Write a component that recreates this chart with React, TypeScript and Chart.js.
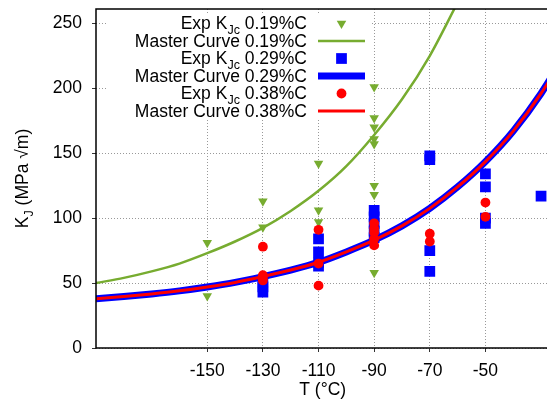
import React, { useEffect, useRef } from 'react';
import { Chart, registerables } from 'chart.js';

Chart.register(...registerables);

// ---- axis ticks ----
const X_TICKS = [-150, -130, -110, -90, -70, -50];
const Y_TICKS = [0, 50, 100, 150, 200, 250];
const X_MIN = -190;
const X_MAX = -27;
const Y_MIN = 0;
const Y_MAX = 261;

// ---- experimental K_Jc, 0.19%C ----
const EXP019_T = [-150, -150, -130, -130, -110, -110, -110, -90, -90, -90, -90, -90, -90, -90, -90];
const EXP019_K = [81, 40, 113, 93, 142, 106, 97, 201, 177, 170, 161, 157, 125, 118, 58];

// ---- experimental K_Jc, 0.29%C ----
const EXP029_T = [-130, -130, -130, -110, -110, -110, -110, -90, -90, -90, -90, -90, -70, -70, -70, -70, -50, -50, -50, -50, -30];
const EXP029_K = [51, 47, 43, 84, 74, 66, 63, 106, 101, 96, 90, 85, 148, 145, 75, 59, 134, 124, 100, 96, 117];

// ---- experimental K_Jc, 0.38%C ----
const EXP038_T = [-130, -130, -130, -130, -110, -110, -110, -90, -90, -90, -90, -90, -70, -70, -50, -50];
const EXP038_K = [78, 56, 54, 52, 91, 65, 48, 96, 92, 89, 84, 79, 88, 82, 112, 101];

// ---- master curves ----
const MC019_T = [-190, -180, -170, -160, -150, -140, -130, -120, -110, -100, -90, -80, -70, -60];
const MC019_K = [50, 54, 59, 65, 73, 82, 92.5, 105.5, 121, 140, 164, 191.5, 225, 266];
const MC029_T = [-190, -180, -170, -160, -150, -140, -130, -120, -110, -100, -90, -80, -70, -60, -50, -40, -30, -20];
const MC029_K = [38, 39.6, 41.6, 44, 47, 50.5, 55, 60, 66, 74, 83, 94, 107.5, 124, 143.5, 167, 196, 230.5];
const MC038_T = [-190, -180, -170, -160, -150, -140, -130, -120, -110, -100, -90, -80, -70, -60, -50, -40, -30, -20];
const MC038_K = [38, 39.6, 41.6, 44, 47, 50.5, 55, 60, 66, 74, 83, 94, 107.5, 124, 143.5, 167, 196, 230.5];

// ---- legend text ----
const CARBON = ['0.19%C', '0.29%C', '0.38%C'];

const GREEN = '#77AC30';
const BLUE = '#0000FF';
const RED = '#FF0000';
const FAMILY = '"Liberation Sans", Arial, Helvetica, sans-serif';
const FONT = `17.5px ${FAMILY}`;
const SUBFONT = `12.5px ${FAMILY}`;
const TRI_R = 5.5;
const RECT_R = 7.6;
const CIRC_R = 4.9;

type Part = { t: string; sub?: boolean };

function partsWidth(ctx: CanvasRenderingContext2D, parts: Part[]) {
  let w = 0;
  for (const p of parts) {
    ctx.font = p.sub ? SUBFONT : FONT;
    w += ctx.measureText(p.t).width;
  }
  return w;
}

function drawParts(ctx: CanvasRenderingContext2D, parts: Part[], x: number, y: number) {
  ctx.textAlign = 'left';
  ctx.textBaseline = 'alphabetic';
  ctx.fillStyle = '#000';
  for (const p of parts) {
    ctx.font = p.sub ? SUBFONT : FONT;
    ctx.fillText(p.t, x, p.sub ? y + 4.5 : y);
    x += ctx.measureText(p.t).width;
  }
}

function marker(ctx: CanvasRenderingContext2D, style: string, x: number, y: number, color: string) {
  ctx.fillStyle = color;
  ctx.beginPath();
  if (style === 'triangle') {
    const r = TRI_R;
    ctx.moveTo(x, y + r);
    ctx.lineTo(x + r * Math.sin((2 * Math.PI) / 3 + Math.PI), y - r * Math.cos((2 * Math.PI) / 3 + Math.PI));
    ctx.lineTo(x + r * Math.sin((4 * Math.PI) / 3 + Math.PI), y - r * Math.cos((4 * Math.PI) / 3 + Math.PI));
    ctx.closePath();
  } else if (style === 'rect') {
    const s = RECT_R * Math.SQRT1_2;
    ctx.rect(x - s, y - s, 2 * s, 2 * s);
  } else {
    ctx.arc(x, y, CIRC_R, 0, Math.PI * 2);
  }
  ctx.fill();
}

const decor = {
  id: 'decor',
  beforeDatasetsDraw(chart: any) {
    const ctx: CanvasRenderingContext2D = chart.ctx;
    ctx.save();
    ctx.fillStyle = '#fff';
    ctx.fillRect(106, 14, 266, 106);
    ctx.restore();
  },
  afterDatasetsDraw(chart: any) {
    const ctx: CanvasRenderingContext2D = chart.ctx;
    const a = chart.chartArea;
    ctx.save();
    const entries = [
      { kind: 'marker', style: 'triangle', color: GREEN, parts: [{ t: 'Exp K' }, { t: 'Jc', sub: true }, { t: ' ' + CARBON[0] }] },
      { kind: 'line', width: 2.5, color: GREEN, parts: [{ t: 'Master Curve ' + CARBON[0] }] },
      { kind: 'marker', style: 'rect', color: BLUE, parts: [{ t: 'Exp K' }, { t: 'Jc', sub: true }, { t: ' ' + CARBON[1] }] },
      { kind: 'line', width: 7, color: BLUE, parts: [{ t: 'Master Curve ' + CARBON[1] }] },
      { kind: 'marker', style: 'circle', color: RED, parts: [{ t: 'Exp K' }, { t: 'Jc', sub: true }, { t: ' ' + CARBON[2] }] },
      { kind: 'line', width: 3, color: RED, parts: [{ t: 'Master Curve ' + CARBON[2] }] },
    ];
    entries.forEach((e, i) => {
      const cy = 23.5 + 17.5 * i;
      const w = partsWidth(ctx, e.parts as Part[]);
      drawParts(ctx, e.parts as Part[], 307 - w, cy + 5.8);
      if (e.kind === 'line') {
        ctx.strokeStyle = e.color;
        ctx.lineWidth = e.width as number;
        ctx.beginPath();
        ctx.moveTo(318, cy);
        ctx.lineTo(365, cy);
        ctx.stroke();
      } else {
        marker(ctx, e.style as string, 341.5, cy, e.color);
      }
    });
    // border
    ctx.strokeStyle = '#000';
    ctx.lineWidth = 1.5;
    ctx.strokeRect(a.left, a.top, a.right - a.left, a.bottom - a.top);
    // x title
    ctx.font = FONT;
    ctx.fillStyle = '#000';
    ctx.textAlign = 'center';
    ctx.textBaseline = 'alphabetic';
    ctx.fillText('T (°C)', (a.left + a.right) / 2, 395);
    // y title
    const yparts: Part[] = [{ t: 'K' }, { t: 'J', sub: true }, { t: ' (MPa √m)' }];
    const yw = partsWidth(ctx, yparts);
    ctx.translate(28.3, (a.top + a.bottom) / 2);
    ctx.rotate(-Math.PI / 2);
    drawParts(ctx, yparts, -yw / 2, 0);
    ctx.restore();
  },
};

const pts = (xs: number[], ys: number[]) => xs.map((x, i) => ({ x, y: ys[i] }));

export default function App() {
  const ref = useRef<HTMLCanvasElement>(null);
  useEffect(() => {
    const canvas = ref.current!;
    const gridCommon = {
      color: '#999999',
      lineWidth: 1,
      tickColor: '#333',
      tickLength: 4,
      tickWidth: 1,
    };
    const chart = new Chart(canvas, {
      type: 'scatter',
      data: {
        datasets: [
          {
            label: 'Exp 0.19',
            data: pts(EXP019_T, EXP019_K),
            pointStyle: 'triangle',
            pointRotation: 180,
            pointRadius: TRI_R,
            pointBackgroundColor: GREEN,
            pointBorderWidth: 0,
            order: 6,
          },
          {
            label: 'MC 0.19',
            data: pts(MC019_T, MC019_K),
            showLine: true,
            borderColor: GREEN,
            borderWidth: 2.5,
            pointRadius: 0,
            cubicInterpolationMode: 'monotone',
            clip: 0,
            order: 5,
          },
          {
            label: 'Exp 0.29',
            data: pts(EXP029_T, EXP029_K),
            pointStyle: 'rect',
            pointRadius: RECT_R,
            pointBackgroundColor: BLUE,
            pointBorderWidth: 0,
            order: 4,
          },
          {
            label: 'MC 0.29',
            data: pts(MC029_T, MC029_K),
            showLine: true,
            borderColor: BLUE,
            borderWidth: 7,
            pointRadius: 0,
            cubicInterpolationMode: 'monotone',
            clip: 0,
            order: 3,
          },
          {
            label: 'Exp 0.38',
            data: pts(EXP038_T, EXP038_K),
            pointStyle: 'circle',
            pointRadius: CIRC_R,
            pointBackgroundColor: RED,
            pointBorderWidth: 0,
            order: 2,
          },
          {
            label: 'MC 0.38',
            data: pts(MC038_T, MC038_K),
            showLine: true,
            borderColor: RED,
            borderWidth: 3,
            pointRadius: 0,
            cubicInterpolationMode: 'monotone',
            clip: 0,
            order: 1,
          },
        ],
      } as any,
      options: {
        responsive: false,
        animation: false,
        events: [],
        layout: { padding: { top: 9, right: 2, left: 0, bottom: 0 } },
        plugins: { legend: { display: false }, tooltip: { enabled: false } },
        scales: {
          x: {
            type: 'linear',
            min: X_MIN,
            max: X_MAX,
            afterBuildTicks: (s: any) => {
              s.ticks = X_TICKS.map((v) => ({ value: v }));
            },
            afterFit: (s: any) => {
              s.height = 61;
              s.paddingLeft = 0;
              s.paddingRight = 0;
            },
            grid: gridCommon,
            border: { display: false, dash: [1, 2] },
            ticks: {
              font: { family: FAMILY, size: 17.5 },
              color: '#000',
              padding: 9,
              maxRotation: 0,
              autoSkip: false,
              callback: (v: any) => String(v),
            },
          },
          y: {
            type: 'linear',
            min: Y_MIN,
            max: Y_MAX,
            afterBuildTicks: (s: any) => {
              s.ticks = Y_TICKS.map((v) => ({ value: v }));
            },
            afterFit: (s: any) => {
              s.width = 96;
              s.paddingTop = 0;
              s.paddingBottom = 0;
            },
            grid: gridCommon,
            border: { display: false, dash: [1, 2] },
            ticks: {
              font: { family: FAMILY, size: 17.5 },
              color: '#000',
              padding: 10,
              autoSkip: false,
              callback: (v: any) => String(v),
            },
          },
        },
      } as any,
      plugins: [decor],
    });
    return () => chart.destroy();
  }, []);
  return (
    <div style={{ position: 'fixed', left: 0, top: 0, width: 547, height: 409, overflow: 'hidden', background: '#fff' }}>
      <canvas ref={ref} width={557} height={409} style={{ display: 'block' }} />
    </div>
  );
}
